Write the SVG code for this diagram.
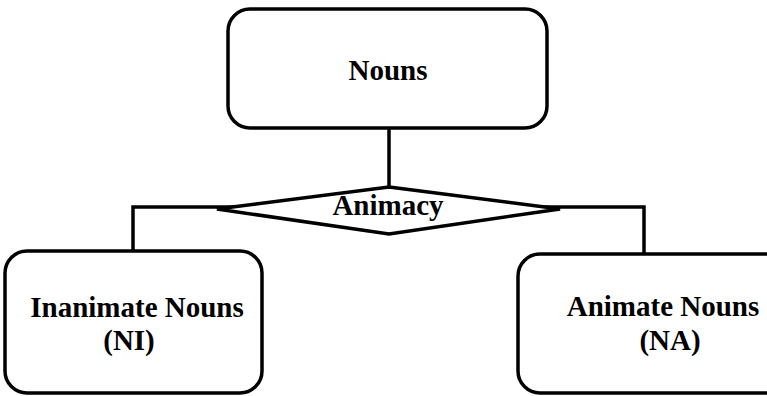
<svg xmlns="http://www.w3.org/2000/svg" width="767" height="396" viewBox="0 0 767 396">
<style>
.box{fill:#fff;stroke:#000;stroke-width:3.5}
.ln{fill:none;stroke:#000;stroke-width:3.5}
.t{font-family:"Liberation Serif","Times New Roman",serif;font-weight:bold;font-size:29px;fill:#000;text-anchor:middle}
</style>
<rect width="767" height="396" fill="#fff"/>
<g id="connectors">
<line class="ln" x1="389" y1="128" x2="389" y2="188" stroke-width="4.5"/>
<polyline class="ln" points="133,251 133,207 240,207"/>
<polyline class="ln" points="536,207 644,207 644,254"/>
</g>
<g id="nouns">
<rect class="box" x="228" y="9" width="319" height="119" rx="22"/>
<text class="t" x="388" y="80">Nouns</text>
</g>
<g id="animacy">
<polygon class="box" points="389,187 560,209 389,234 217,209"/>
<text class="t" x="388" y="215">Animacy</text>
</g>
<g id="inanimate">
<rect class="box" x="5" y="251" width="257" height="142" rx="22"/>
<text class="t" x="137" y="317">Inanimate Nouns</text>
<text class="t" x="129" y="350">(NI)</text>
</g>
<g id="animate">
<rect class="box" x="518" y="254" width="270" height="139" rx="22"/>
<text class="t" x="663" y="316">Animate Nouns</text>
<text class="t" x="670" y="350">(NA)</text>
</g>
</svg>
